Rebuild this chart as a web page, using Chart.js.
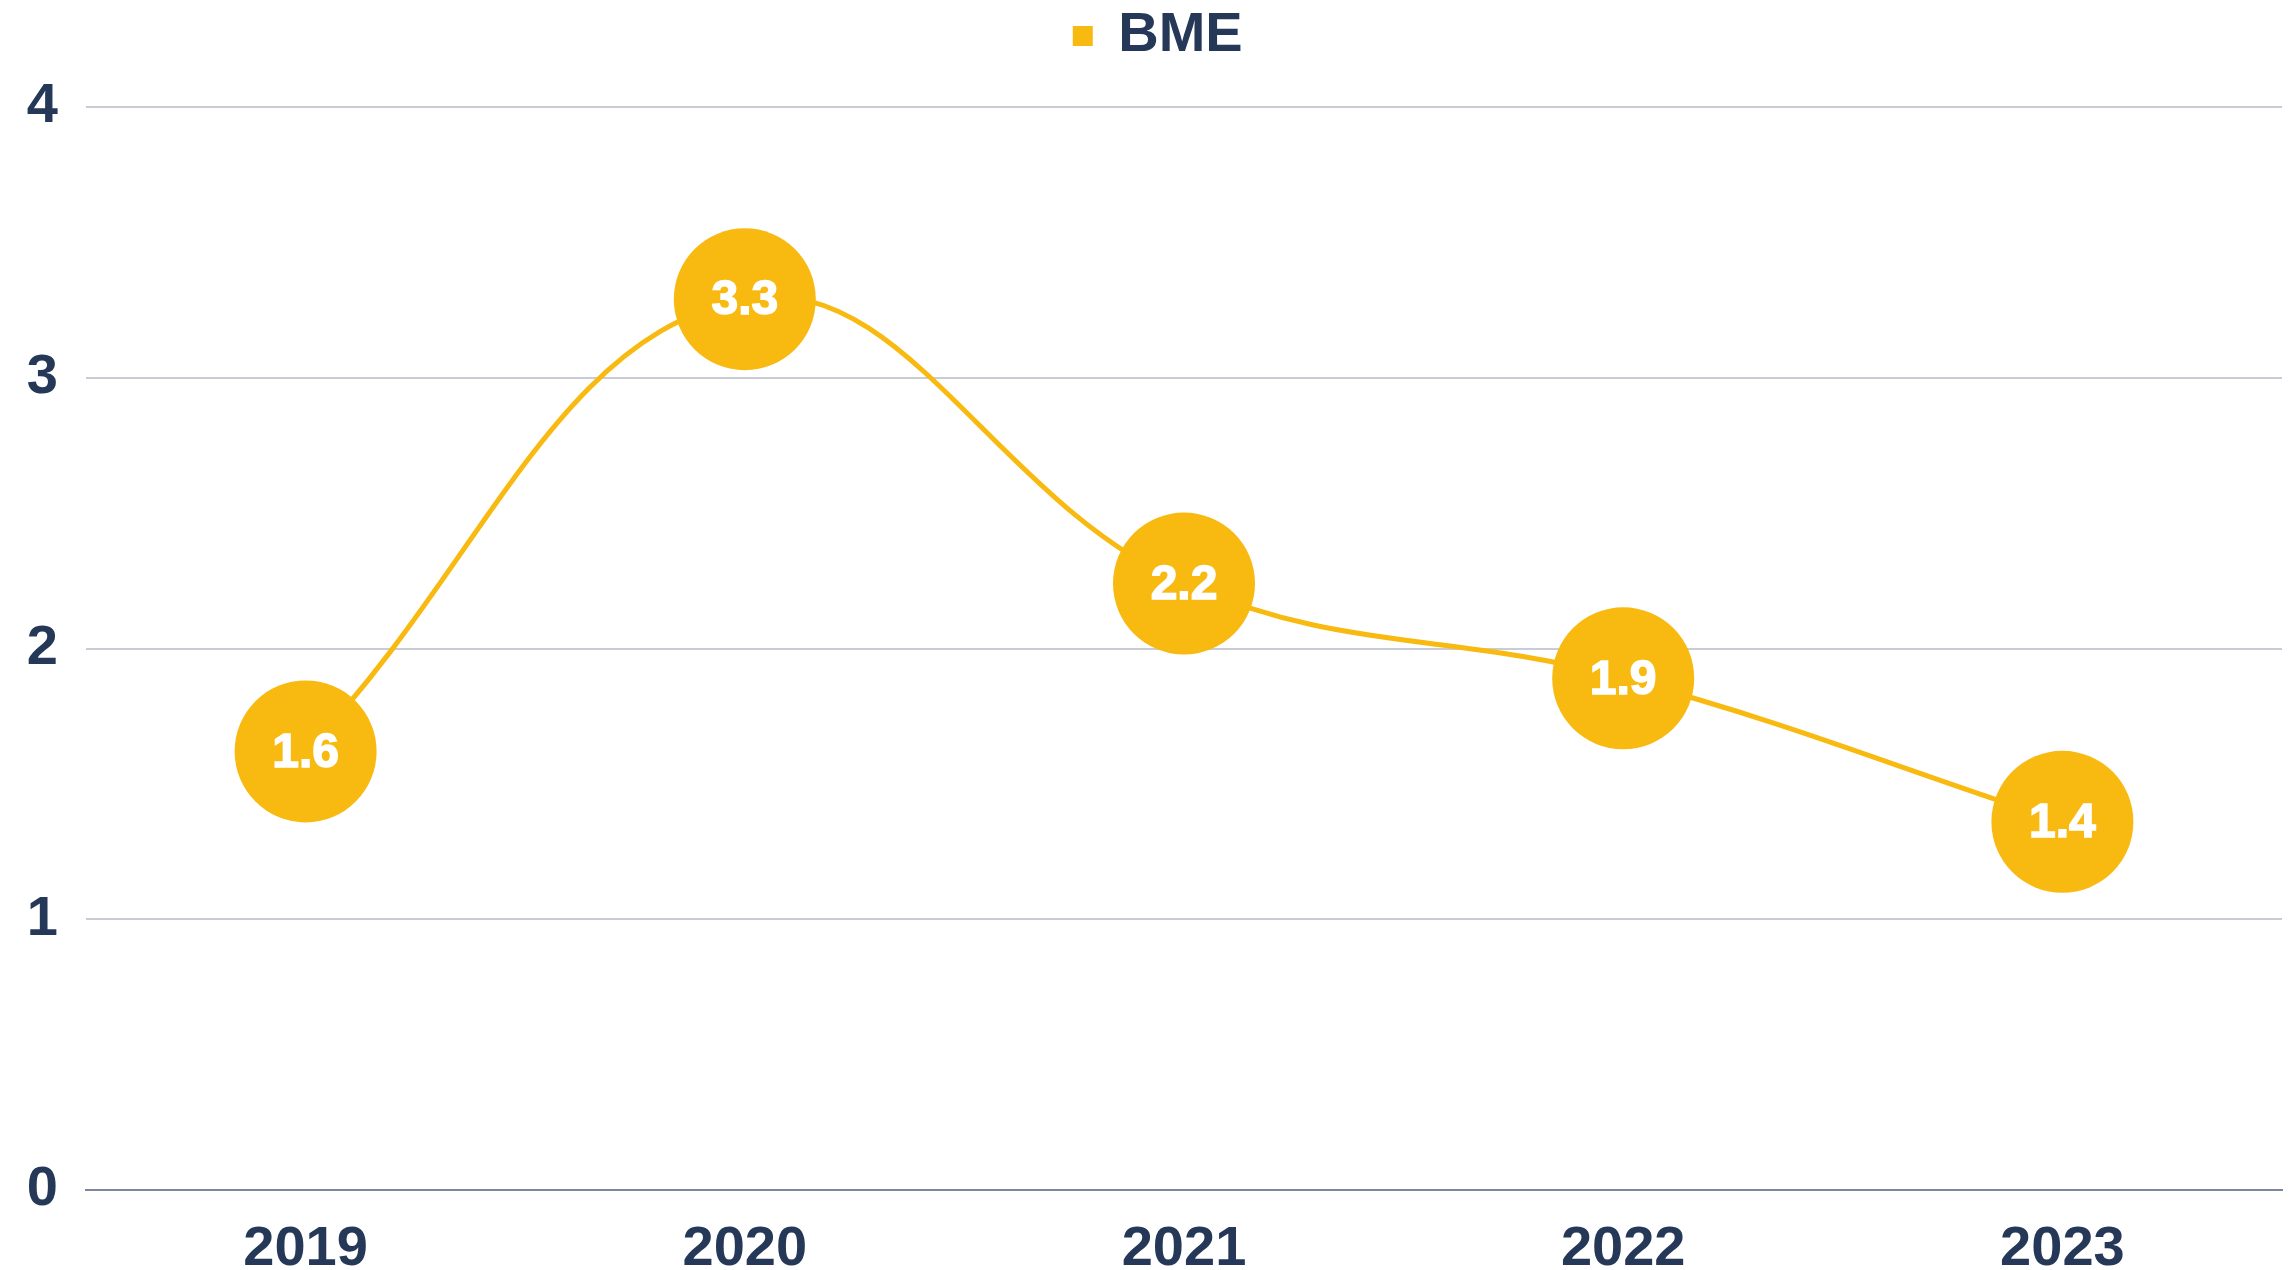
<!DOCTYPE html>
<html>
<head>
<meta charset="utf-8">
<script src="https://cdn.jsdelivr.net/npm/chart.js@4/dist/chart.umd.min.js"></script>
<style>
  html, body { margin: 0; padding: 0; background: #fff; overflow: hidden; }
  canvas { display: block; }
</style>
</head>
<body>
<canvas id="bmeChart" width="2296" height="1270"></canvas>
<script>
var years = ['2019', '2020', '2021', '2022', '2023'];
var bmeValues = [1.62, 3.29, 2.24, 1.89, 1.36];
var yTicks = [0, 1, 2, 3, 4];

var navy = '#253858';
var yellow = '#F8BA10';
var font = '"Liberation Sans", Arial, sans-serif';

// legend gap + value text inside each round marker
var pointLabels = {
    id: 'pointLabels',
    beforeLayout: function (chart) {
        var lg = chart.legend;
        if (lg && !lg._gapPatched) {
            lg._gapPatched = true;
            var fit = lg.fit;
            lg.fit = function () {
                fit.call(this);
                this.height += 33;
            };
        }
    },
    afterLayout: function (chart) {
        // nudge legend a bit right, like the original
        if (chart.legend) {
            chart.legend.left += 36;
        }
    },
    afterDatasetsDraw: function (chart) {
        var c = chart.ctx;
        var meta = chart.getDatasetMeta(0);
        c.save();
        c.fillStyle = '#fff';
        c.strokeStyle = '#fff';
        c.lineWidth = 1.5;
        c.font = 'bold 48px ' + font;
        c.textAlign = 'center';
        c.textBaseline = 'middle';
        meta.data.forEach(function (pt, i) {
            var t = bmeValues[i].toFixed(1);
            c.fillText(t, pt.x, pt.y + 2);
            c.strokeText(t, pt.x, pt.y + 2);
        });
        c.restore();
    }
};

var ctx = document.getElementById('bmeChart').getContext('2d');
var chart = new Chart(ctx, {
    type: 'line',
    data: {
        labels: years,
        datasets: [{
            label: 'BME',
            data: bmeValues,
            borderColor: yellow,
            backgroundColor: yellow,
            borderWidth: 5,
            tension: 0.4,
            pointRadius: 71,
            pointHoverRadius: 71,
            pointBorderWidth: 0,
            pointBackgroundColor: yellow,
            clip: false
        }]
    },
    options: {
        responsive: false,
        animation: false,
        events: [],
        layout: { autoPadding: false, padding: { left: 0, right: 14, top: 0, bottom: 0 } },
        plugins: {
            tooltip: { enabled: false },
            legend: {
                position: 'top',
                labels: {
                    color: navy,
                    font: { family: font, size: 56, weight: 'bold' },
                    boxWidth: 15,
                    boxHeight: 15,
                    padding: 8
                }
            }
        },
        scales: {
            x: {
                offset: true,
                grid: { display: false, drawTicks: false },
                border: { display: true, color: '#7D879C', width: 2 },
                ticks: {
                    color: navy,
                    padding: 26,
                    font: { family: font, size: 56, weight: 'bold' }
                },
                afterFit: function (s) { s.height = 80; }
            },
            y: {
                min: 0,
                max: 4,
                afterBuildTicks: function (s) {
                    s.ticks = yTicks.map(function (v) { return { value: v }; });
                },
                grid: { color: '#C9CCD5', lineWidth: 2, drawTicks: false },
                border: { display: false },
                ticks: {
                    color: navy,
                    padding: 28,
                    font: { family: font, size: 56, weight: 'bold' }
                },
                afterFit: function (s) { s.width = 86; }
            }
        }
    },
    plugins: [pointLabels]
});
</script>
</body>
</html>
